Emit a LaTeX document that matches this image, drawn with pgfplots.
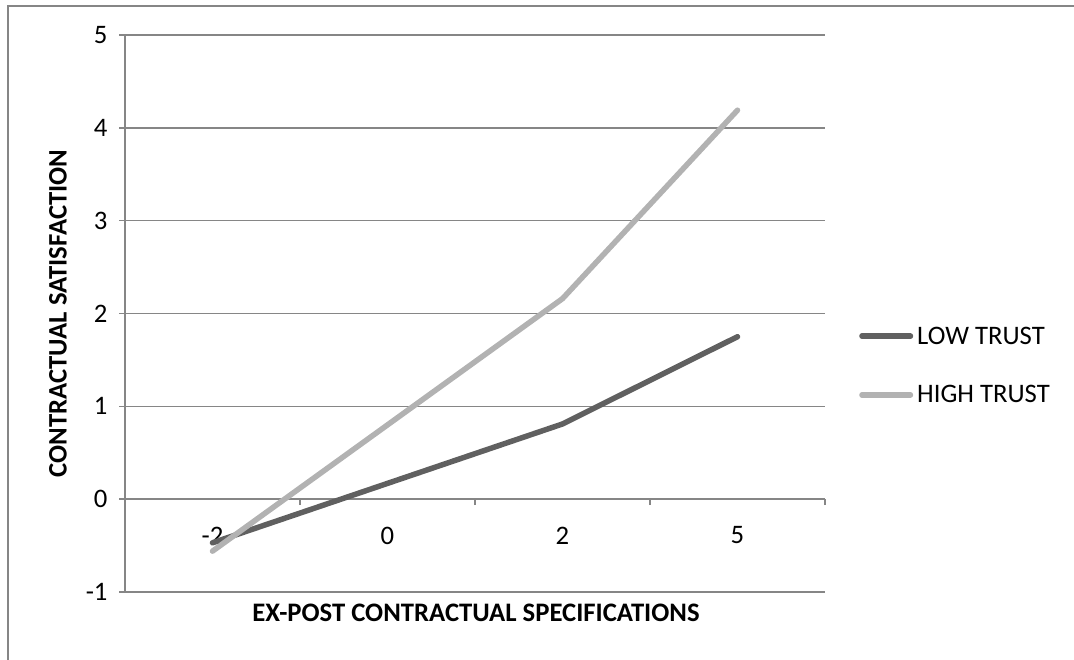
\documentclass[border=0pt]{standalone}
\usepackage{fontspec}
\setmainfont{Carlito}
\usepackage{pgfplots}
\pgfplotsset{compat=1.18}
\definecolor{gridgray}{RGB}{134,134,134}
\definecolor{lowtrust}{RGB}{96,96,96}
\definecolor{hightrust}{RGB}{178,178,178}

\begin{document}
\begin{tikzpicture}[font=\fontsize{26.7bp}{32bp}\selectfont]
\useasboundingbox (0,0) rectangle (1074bp,660bp);
% chart area frame (top and left edges)
\draw[gridgray, line width=2bp] (8bp,0) -- (8bp,654bp) -- (1074bp,654bp);
\begin{axis}[
  at={(125bp,68bp)}, anchor=south west,
  scale only axis, width=700bp, height=557bp,
  xmin=0.5, xmax=4.5, ymin=-1, ymax=5,
  axis y line=left, axis x line=middle,
  axis line style={-, gridgray, line width=1.5bp},
  hide obscured x ticks=false, hide obscured y ticks=false,
  % category boundaries carry the tick marks, centres carry the names
  xtick={0.5,1.5,2.5,3.5,4.5}, xticklabel={\mbox{}},
  extra x ticks={1,2,3,4}, extra x tick labels={-2,0,2,5},
  extra x tick style={major tick length=0pt, grid=none,
    xticklabel style={yshift=-24bp}},
  ytick={-1,0,1,2,3,4,5}, yticklabels={-1,0,1,2,3,4,5},
  ymajorgrids, grid style={gridgray, line width=1.5bp},
  tick style={gridgray, line width=1.5bp},
  tick align=outside, major tick length=6bp,
  yticklabel style={xshift=-8bp},
  xlabel={\bfseries EX-POST CONTRACTUAL SPECIFICATIONS},
  ylabel={\bfseries CONTRACTUAL SATISFACTION},
  every axis x label/.style={at={(axis description cs:0.5014,-0.0377)}, anchor=center},
  every axis y label/.style={at={(axis description cs:-0.0957,0.5)}, anchor=center, rotate=90},
  legend image code/.code={\draw[#1, line cap=round] (0bp,0bp) -- (48.5bp,0bp);},
  legend style={at={(axis description cs:1.0486,0.4066)}, anchor=west,
    draw=none, fill=none, inner sep=0pt, row sep=40bp,
    nodes={inner sep=0pt}, column sep=4bp},
  legend cell align=left,
  clip=false,
]
\addplot[lowtrust, line width=5.5bp, line cap=round, line join=round]
  coordinates {(1,-0.47) (2,0.17) (3,0.81) (4,1.75)};
\addlegendentry{LOW TRUST}
\addplot[hightrust, line width=5.5bp, line cap=round, line join=round]
  coordinates {(1,-0.56) (2,0.80) (3,2.16) (4,4.19)};
\addlegendentry{HIGH TRUST}
\end{axis}
\end{tikzpicture}
\end{document}
